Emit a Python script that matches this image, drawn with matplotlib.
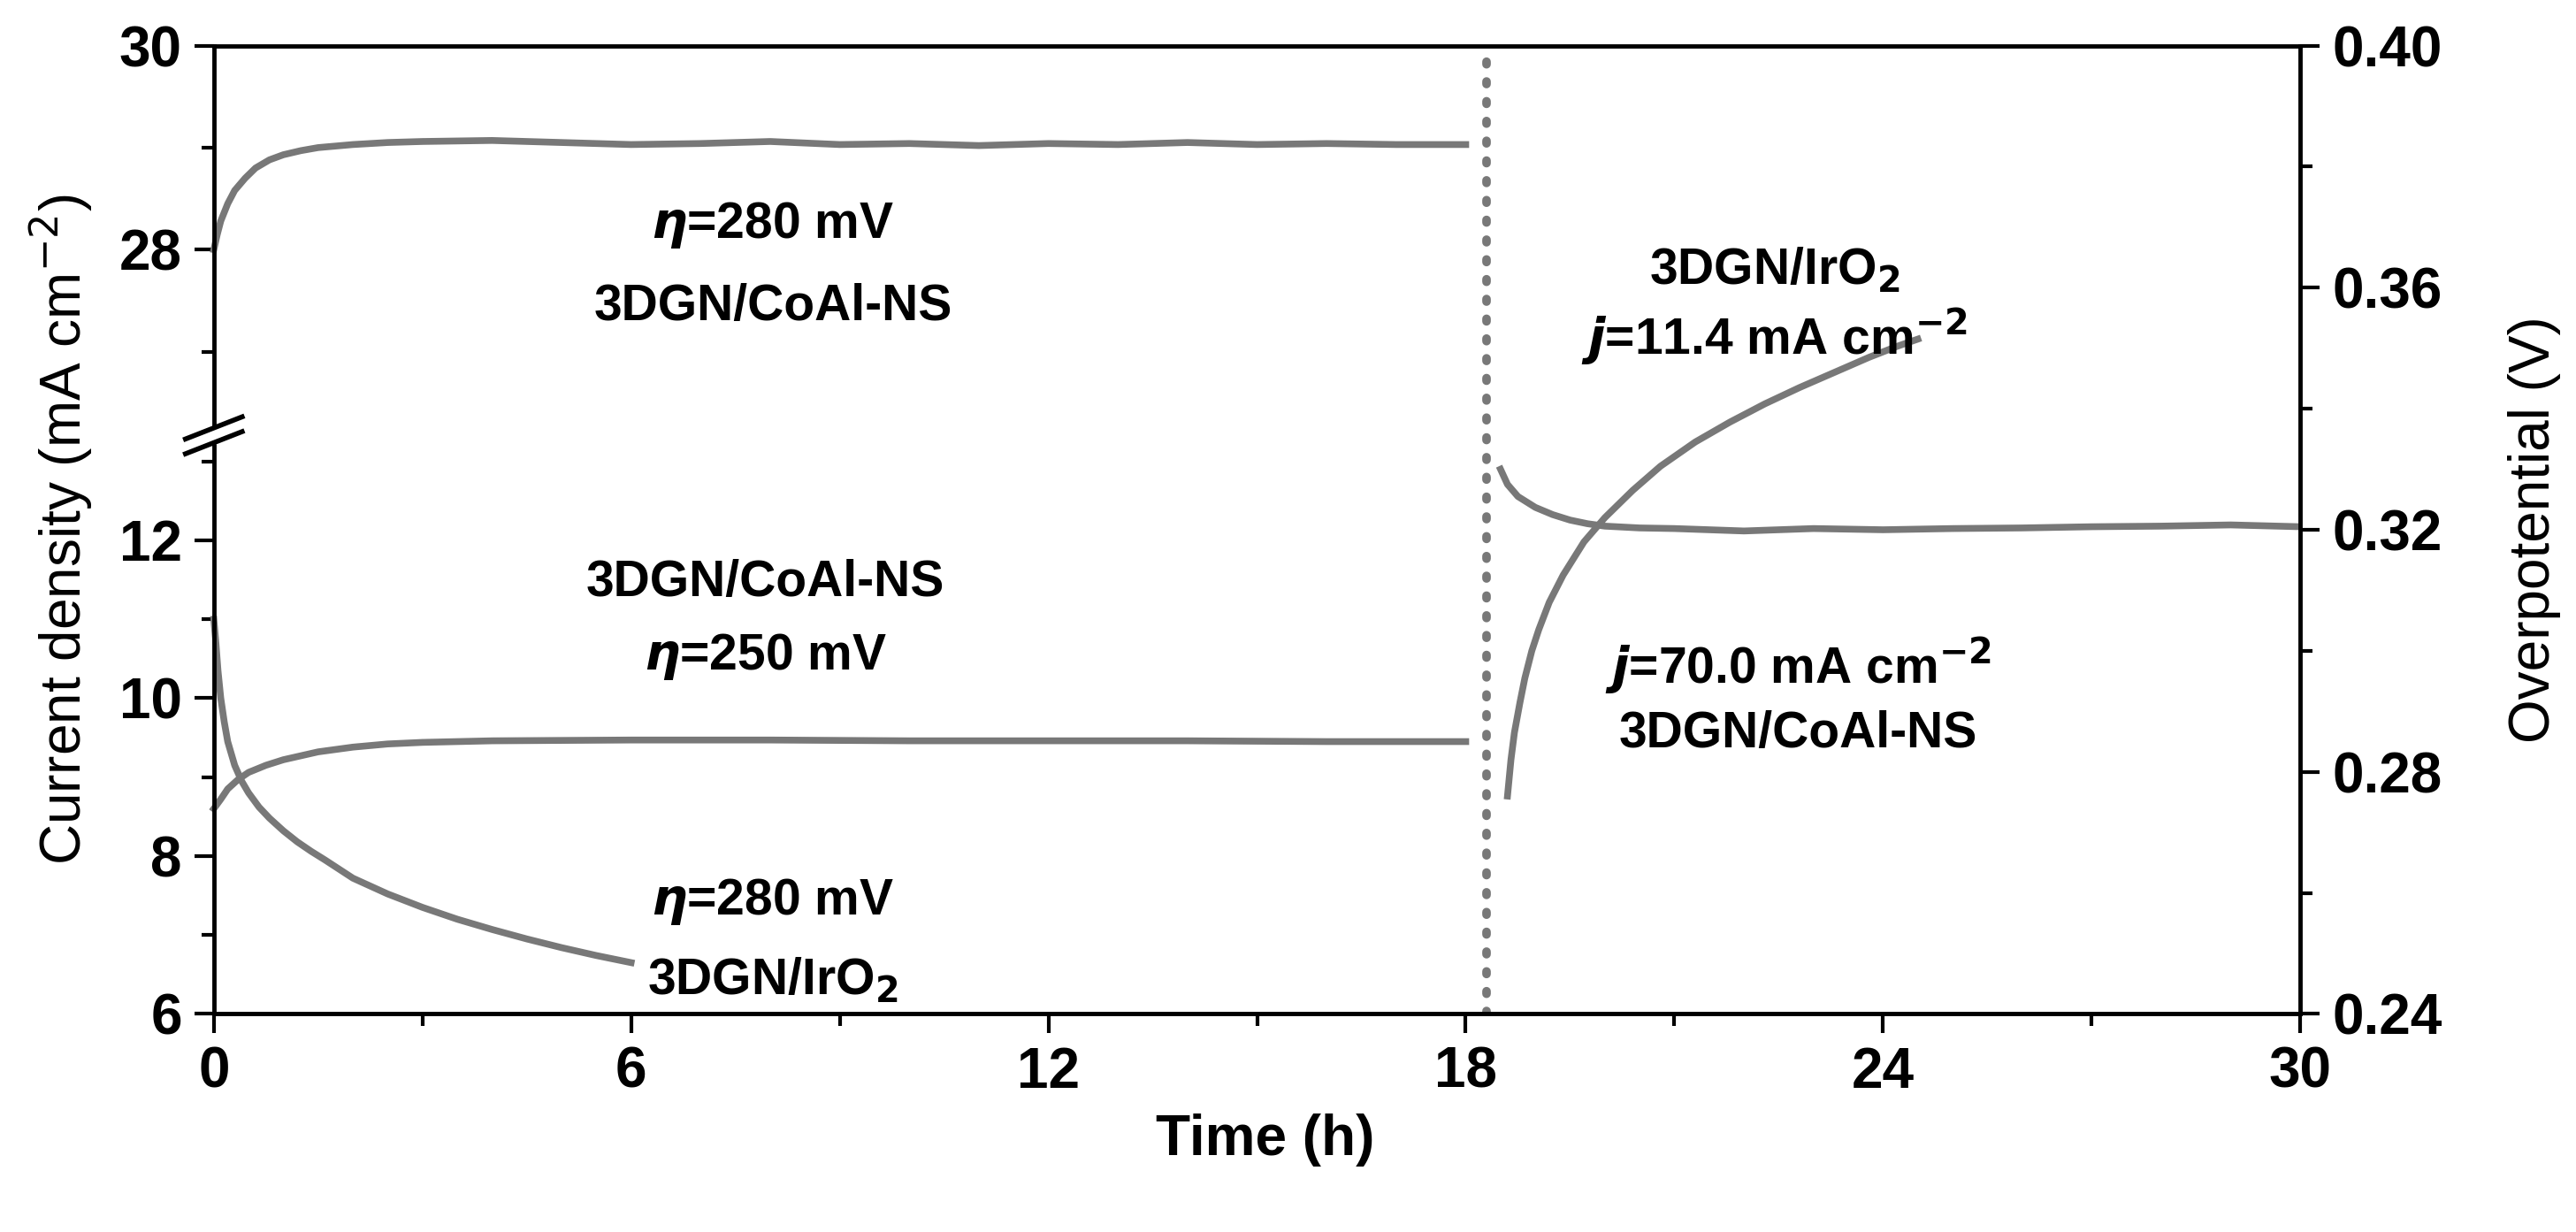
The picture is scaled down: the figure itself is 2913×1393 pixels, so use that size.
import matplotlib
matplotlib.use("Agg")
import matplotlib.pyplot as plt
import numpy as np

# ---- data ----
t_coal280 = [0, 0.05, 0.1, 0.2, 0.3, 0.45, 0.6, 0.8, 1.0, 1.25, 1.5, 2.0, 2.5, 3.0, 4, 5, 6, 7, 8, 9, 10, 11, 12, 13, 14, 15, 16, 17, 18]
j_coal280 = [28.0, 28.15, 28.28, 28.45, 28.58, 28.7, 28.8, 28.88, 28.93, 28.97, 29.0, 29.03, 29.05, 29.06, 29.07, 29.05, 29.03, 29.04, 29.06, 29.03, 29.04, 29.02, 29.04, 29.03, 29.05, 29.03, 29.04, 29.03, 29.03]

t_coal250 = [0, 0.1, 0.2, 0.35, 0.5, 0.75, 1.0, 1.5, 2.0, 2.5, 3.0, 4, 6, 8, 10, 12, 14, 16, 18]
j_coal250 = [8.6, 8.72, 8.85, 8.97, 9.06, 9.15, 9.22, 9.32, 9.38, 9.42, 9.44, 9.46, 9.47, 9.47, 9.46, 9.46, 9.46, 9.45, 9.45]

t_iro280 = [0, 0.03, 0.06, 0.1, 0.15, 0.2, 0.3, 0.4, 0.5, 0.65, 0.8, 1.0, 1.2, 1.4, 1.6, 2.0, 2.5, 3.0, 3.5, 4.0, 4.5, 5.0, 5.5, 6.0]
j_iro280 = [11.0, 10.7, 10.35, 10.0, 9.7, 9.45, 9.15, 8.95, 8.8, 8.62, 8.48, 8.32, 8.18, 8.06, 7.95, 7.72, 7.52, 7.35, 7.2, 7.07, 6.95, 6.84, 6.74, 6.65]

t_coal70 = [18.5, 18.6, 18.75, 19.0, 19.25, 19.5, 19.75, 20.0, 20.5, 21, 22, 23, 24, 25, 26, 27, 28, 29, 30]
v_coal70 = [0.330, 0.3275, 0.3255, 0.3237, 0.3225, 0.3216, 0.321, 0.3206, 0.3203, 0.3202, 0.3198, 0.3202, 0.3200, 0.3202, 0.3203, 0.3205, 0.3206, 0.3208, 0.3205]

t_iro114 = [18.6, 18.65, 18.7, 18.78, 18.85, 18.95, 19.05, 19.2, 19.4, 19.7, 20.0, 20.4, 20.8, 21.3, 21.8, 22.3, 22.8, 23.3, 23.8, 24.2, 24.5]
v_iro114 = [0.276, 0.282, 0.2865, 0.2915, 0.2955, 0.3, 0.3035, 0.308, 0.3125, 0.318, 0.322, 0.3265, 0.3305, 0.3345, 0.3378, 0.3408, 0.3435, 0.346, 0.3485, 0.3503, 0.3515]

switch_t = 18.3

x_ticks = [0, 6, 12, 18, 24, 30]
low_ticks = [6, 8, 10, 12]
up_ticks = [28, 30]
r_ticks = [0.24, 0.28, 0.32, 0.36, 0.40]

# ---- layout ----
W, H = 2913, 1393
fig = plt.figure(figsize=(W / 100, H / 100), dpi=100)
L, R, T, B = 0.083, 0.893, 0.963, 0.177
brk = 1 - 265 / 750
col = '#787878'
lw_sp = 3.5
lw_c = 5.5
fs = 46
tf = dict(family='Liberation Sans', weight='bold', size=fs)

ax_low = fig.add_axes([L, B, R - L, brk - B])
ax_up = fig.add_axes([L, brk, R - L, T - brk])
ax_r = fig.add_axes([L, B, R - L, T - B])
ax_r.patch.set_alpha(0)

for ax in (ax_low, ax_up):
    ax.set_xlim(0, 30)
    ax.patch.set_alpha(0)
    for s in ('top', 'bottom', 'right'):
        ax.spines[s].set_visible(False)
    ax.spines['left'].set_linewidth(lw_sp)
    ax.set_xticks([])
    ax.tick_params(axis='y', direction='out', length=16, width=3, pad=10)
    ax.tick_params(axis='y', which='minor', direction='out', length=10, width=3)

ax_low.set_ylim(6, 13.33)
ax_low.set_yticks(low_ticks)
ax_low.set_yticks([7, 9, 11, 13], minor=True)
ax_up.set_ylim(26.18, 30)
ax_up.set_yticks(up_ticks)
ax_up.set_yticks([27, 29], minor=True)
ax_low.set_yticklabels([str(v) for v in low_ticks], **tf)
ax_up.set_yticklabels([str(v) for v in up_ticks], **tf)

ax_up.plot(t_coal280, j_coal280, color=col, lw=lw_c, clip_on=False)
ax_low.plot(t_coal250, j_coal250, color=col, lw=lw_c, clip_on=False)
ax_low.plot(t_iro280, j_iro280, color=col, lw=lw_c, clip_on=False)

ax_r.set_xlim(0, 30)
ax_r.set_ylim(0.24, 0.40)
ax_r.spines['left'].set_visible(False)
for s in ('top', 'bottom', 'right'):
    ax_r.spines[s].set_linewidth(lw_sp)
ax_r.yaxis.tick_right()
ax_r.yaxis.set_label_position('right')
ax_r.set_yticks(r_ticks)
ax_r.set_yticks([0.26, 0.30, 0.34, 0.38], minor=True)
ax_r.set_yticklabels(['%.2f' % v for v in r_ticks], **tf)
ax_r.set_xticks(x_ticks)
ax_r.set_xticks([3, 9, 15, 21, 27], minor=True)
ax_r.set_xticklabels([str(v) for v in x_ticks], **tf)
ax_r.tick_params(axis='both', direction='out', length=16, width=3, pad=10)
ax_r.tick_params(axis='both', which='minor', direction='out', length=10, width=3)
ax_r.tick_params(axis='x', top=False)
ax_r.plot(t_coal70, v_coal70, color=col, lw=lw_c)
ax_r.plot(t_iro114, v_iro114, color=col, lw=lw_c)
ax_r.axvline(switch_t, color=col, lw=7, ls=(0, (0.3, 2.0)), dash_capstyle='round')

# break marks
fig.add_artist(plt.Rectangle((L - 0.004, brk - 0.006), 0.008, 0.012, color='white',
                             transform=fig.transFigure, zorder=3))
for dy in (-0.006, 0.006):
    fig.add_artist(plt.Line2D([L - 0.011, L + 0.011], [brk + dy - 0.009, brk + dy + 0.009],
                              color='black', lw=4, transform=fig.transFigure, zorder=4))

# labels
lab_font = dict(family='Liberation Sans', size=46)
fig.text(0.024, (T + B) / 2, 'Current density (mA cm$^{-2}$)', rotation=90,
         ha='center', va='center', **lab_font)
fig.text(0.984, (T + B) / 2, 'Overpotential (V)', rotation=90, ha='center', va='center', **lab_font)
fig.text(0.491, 0.075, 'Time (h)', ha='center', va='center', **tf)

af = dict(family='Liberation Sans', weight='bold', size=41, ha='center', va='center')
fig.text(0.300, 0.817, r'$\boldsymbol{\eta}$=280 mV', **af)
fig.text(0.300, 0.751, '3DGN/CoAl-NS', **af)
fig.text(0.297, 0.527, '3DGN/CoAl-NS', **af)
fig.text(0.297, 0.467, r'$\boldsymbol{\eta}$=250 mV', **af)
fig.text(0.300, 0.268, r'$\boldsymbol{\eta}$=280 mV', **af)
fig.text(0.300, 0.204, r'3DGN/IrO$_\mathbf{2}$', **af)
fig.text(0.689, 0.780, r'3DGN/IrO$_\mathbf{2}$', **af)
fig.text(0.689, 0.727, r'$\boldsymbol{j}$=11.4 mA cm$^{\mathbf{-2}}$', **af)
fig.text(0.698, 0.460, r'$\boldsymbol{j}$=70.0 mA cm$^{\mathbf{-2}}$', **af)
fig.text(0.698, 0.404, '3DGN/CoAl-NS', **af)

fig.savefig('out.png', dpi=100)
